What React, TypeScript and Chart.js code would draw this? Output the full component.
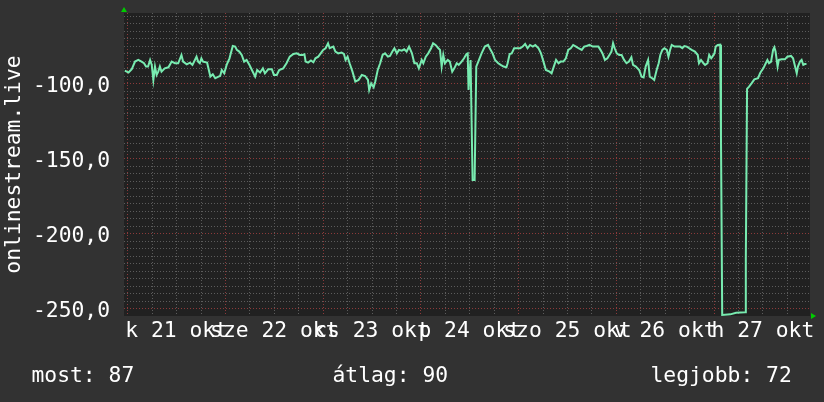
import React, { useEffect, useRef } from 'react';
import { Chart, registerables } from 'chart.js';
Chart.register(...registerables);

// time in hours since 2025-10-21 00:00
const HOURS = [
  -0.7, 0.2, 1.0, 1.8, 2.6, 3.4, 4.0, 4.5, 5.0, 5.5, 5.9, 6.3, 6.7, 7.1, 7.5, 7.9, 8.3, 9.1, 10.0, 10.8,
  11.6, 12.4, 13.2, 13.6, 14.5, 15.3, 15.9, 16.5, 16.9, 17.3, 17.7, 18.1, 18.5, 19.5, 20.3, 20.9, 21.5, 22.3, 22.7, 23.1,
  23.7, 24.3, 25.0, 25.8, 26.4, 26.8, 27.4, 28.0, 28.6, 29.2, 29.9, 30.5, 31.3, 31.8, 32.5, 33.2, 33.7, 34.5, 35.4, 35.9,
  36.6, 37.2, 38.2, 39.0, 39.8, 40.7, 41.5, 42.3, 42.9, 43.4, 43.7, 44.3, 45.0, 45.6, 46.1, 46.8, 47.4, 48.0, 48.6, 49.2,
  49.6, 50.5, 51.0, 51.7, 52.5, 53.1, 53.5, 54.0, 54.5, 55.2, 55.9, 56.7, 57.5, 58.3, 59.0, 59.3, 59.8, 60.4, 60.8, 61.4,
  62.0, 62.6, 63.2, 63.9, 64.4, 65.0, 65.5, 66.1, 66.6, 67.3, 67.9, 68.5, 69.1, 69.8, 70.4, 71.0, 71.5, 72.2, 72.6, 73.2,
  73.8, 74.5, 75.0, 75.6, 76.3, 76.7, 77.1, 77.5, 77.9, 78.6, 79.1, 79.7, 80.2, 80.8, 81.3, 82.0, 82.6, 83.2, 83.5, 83.7,
  84.2, 84.7, 85.2, 85.6, 86.1, 86.9, 87.7, 88.5, 88.9, 89.6, 90.2, 91.0, 91.6, 92.3, 93.0, 93.3, 93.8, 94.3, 94.9, 95.6,
  96.4, 97.0, 97.6, 98.2, 98.8, 99.5, 100.1, 100.9, 101.5, 102.1, 102.7, 103.6, 104.1, 104.5, 105.2, 105.8, 106.3, 107.0, 107.6, 108.2,
  108.8, 109.4, 110.1, 110.7, 111.5, 112.1, 112.7, 113.4, 114.2, 115.0, 115.6, 116.1, 116.6, 117.2, 117.8, 118.3, 118.8, 119.2, 119.6, 120.1,
  120.7, 121.3, 121.9, 122.5, 123.1, 123.7, 124.1, 124.8, 125.6, 126.2, 126.7, 127.2, 127.8, 128.2, 128.8, 129.3, 129.9, 130.4, 130.8, 131.3,
  131.8, 132.4, 132.8, 133.2, 133.6, 134.3, 134.8, 135.7, 136.2, 136.7, 137.3, 137.9, 138.5, 139.3, 140.0, 140.3, 140.8, 141.4, 141.8, 142.4,
  142.8, 143.3, 143.6, 144.1, 144.4, 144.9, 145.5, 145.7, 146.0, 148.0, 149.4, 151.6, 151.8, 152.1, 152.6, 153.2, 153.9, 154.8, 155.3, 155.7,
  156.1, 156.7, 157.1, 157.5, 158.0, 158.5, 158.8, 159.1, 159.6, 159.9, 160.6, 161.4, 162.0, 162.9, 163.4, 164.3, 164.6, 165.1, 165.5, 165.9,
  166.3, 166.7,
];

const VALUES = [
  -91.1, -92.4, -90.2, -85.1, -84.0, -85.1, -86.2, -88.4, -88.4, -84.0, -87.3, -97.3, -88.4, -94.0, -91.8, -88.4, -91.8, -89.6, -88.9, -85.1,
  -86.2, -86.2, -80.7, -85.1, -86.9, -85.8, -87.3, -84.0, -81.8, -85.1, -86.2, -82.9, -85.1, -85.8, -95.1, -93.6, -96.2, -95.1, -94.7, -90.7,
  -92.9, -87.3, -82.9, -74.7, -75.1, -77.3, -78.4, -80.7, -85.1, -84.0, -87.3, -90.7, -95.1, -90.7, -92.4, -89.6, -92.9, -90.2, -90.2, -94.0,
  -94.0, -90.7, -89.6, -86.2, -81.8, -80.0, -79.6, -80.7, -80.7, -80.2, -85.1, -85.8, -84.4, -85.6, -82.9, -81.8, -79.6, -77.3, -76.2, -72.9,
  -76.2, -75.1, -78.4, -79.6, -79.1, -80.0, -84.0, -81.8, -86.2, -91.8, -98.4, -97.3, -94.0, -94.7, -97.3, -104.0, -99.6, -102.2, -98.4, -90.7,
  -86.2, -80.7, -79.6, -81.8, -81.3, -78.4, -76.2, -79.6, -77.3, -77.8, -76.9, -78.4, -75.1, -79.6, -86.2, -86.2, -89.6, -84.0, -86.2, -81.8,
  -79.6, -76.2, -72.9, -74.0, -76.2, -77.3, -88.4, -80.7, -86.2, -84.0, -85.1, -91.8, -89.6, -86.2, -87.3, -85.1, -82.9, -80.0, -79.6, -104.0,
  -84.0, -164.0, -164.0, -88.5, -85.1, -79.6, -75.1, -74.0, -76.2, -79.6, -84.0, -86.2, -87.3, -88.4, -88.9, -86.2, -80.0, -79.6, -76.2, -76.2,
  -76.2, -75.1, -73.3, -76.2, -74.0, -75.1, -74.0, -76.2, -79.6, -85.1, -90.7, -91.8, -92.9, -89.6, -84.0, -86.2, -85.1, -85.1, -82.9, -77.3,
  -76.2, -74.0, -75.1, -76.2, -77.3, -75.1, -74.7, -74.0, -75.1, -75.1, -75.1, -77.3, -79.6, -84.0, -82.9, -80.7, -78.4, -72.9, -76.2, -79.6,
  -80.7, -80.7, -84.0, -86.2, -85.1, -82.2, -87.3, -88.4, -90.7, -95.1, -95.6, -88.4, -84.0, -95.1, -96.2, -97.3, -90.7, -86.2, -80.7, -77.3,
  -76.2, -77.3, -81.8, -77.3, -74.0, -75.1, -75.1, -75.1, -76.2, -74.7, -75.1, -76.2, -77.3, -78.4, -80.7, -86.2, -84.0, -86.2, -87.3, -86.2,
  -80.7, -82.9, -81.8, -79.6, -75.1, -74.0, -73.8, -137.0, -254.0, -253.6, -252.5, -252.2, -217.0, -103.3, -101.8, -99.6, -96.9, -96.2, -92.9, -91.1,
  -89.6, -86.2, -84.0, -86.2, -85.1, -77.3, -75.6, -78.4, -88.4, -84.0, -83.6, -83.6, -81.8, -81.3, -82.9, -92.9, -88.4, -85.1, -84.0, -87.3,
  -86.7, -86.7,
];

const DAY_LABELS = ['k 21 okt', 'sze 22 okt', 'cs 23 okt', 'p 24 okt', 'szo 25 okt', 'v 26 okt', 'h 27 okt'];
const Y_LABEL_VALUES = [-250, -200, -150, -100];
const AXIS_TITLE = 'onlinestream.live';
const SUMMARY_LABELS = ['most', 'átlag', 'legjobb'];
const SUMMARY_VALUES = [87, 90, 72];

const X_MIN = -0.91;
const X_MAX = 167.56;
const Y_MIN = -254.7;
const Y_MAX = -52.7;

const FONT = 'DejaVu Sans Mono';
const FONT_SIZE = 21.33;
const BG = '#323232';
const PLOT_BG = '#212121';
const LINE = '#78ebb0';
const GRID_GRAY = '#5c5c5c';
const GRID_RED = '#8c3a3a';
const ARROW = '#00cc00';

const xGrid: number[] = [];
for (let h = 0; h <= 162; h += 6) xGrid.push(h);
const yGrid: number[] = [];
for (let v = -250; v <= -55; v += 5) yGrid.push(v);

const plotBg = {
  id: 'plotBg',
  beforeDraw(chart: any) {
    const { ctx, chartArea } = chart;
    ctx.save();
    ctx.fillStyle = PLOT_BG;
    ctx.fillRect(chartArea.left, chartArea.top, chartArea.right - chartArea.left, chartArea.bottom - chartArea.top);
    ctx.restore();
  },
  afterDraw(chart: any) {
    const { ctx, chartArea } = chart;
    const { left, bottom, right, top } = chartArea;
    ctx.save();
    ctx.fillStyle = ARROW;
    ctx.beginPath();
    ctx.moveTo(left - 3, top - 1);
    ctx.lineTo(left + 3, top - 1);
    ctx.lineTo(left, top - 6);
    ctx.closePath();
    ctx.fill();
    ctx.beginPath();
    ctx.moveTo(right + 1, bottom - 3);
    ctx.lineTo(right + 1, bottom + 3);
    ctx.lineTo(right + 6, bottom);
    ctx.closePath();
    ctx.fill();
    ctx.restore();
  },
};

export default function App() {
  const ref = useRef<HTMLCanvasElement | null>(null);

  useEffect(() => {
    document.body.style.margin = '0';
    document.body.style.background = BG;
    const canvas = ref.current;
    if (!canvas) return;
    const chart = new Chart(canvas, {
      type: 'line',
      data: {
        datasets: [
          {
            data: HOURS.map((h, i) => ({ x: h, y: VALUES[i] })),
            borderColor: LINE,
            borderWidth: 2,
            pointRadius: 0,
            tension: 0,
            fill: false,
          },
        ],
      },
      options: {
        animation: false,
        responsive: false,
        devicePixelRatio: 1,
        layout: { padding: { left: 0, top: 13, right: 14, bottom: 0 } },
        plugins: { legend: { display: false }, tooltip: { enabled: false } },
        scales: {
          x: {
            type: 'linear',
            min: X_MIN,
            max: X_MAX,
            afterBuildTicks: (s: any) => {
              s.ticks = xGrid.map((v) => ({ value: v }));
            },
            afterFit: (s: any) => {
              s.height = 86;
              s.paddingLeft = 0;
              s.paddingRight = 0;
            },
            grid: {
              color: (c: any) => (c.tick && c.tick.value % 24 === 0 ? GRID_RED : GRID_GRAY),
              lineWidth: 1,
              drawTicks: false,
            },
            border: { display: false, dash: [1, 2] },
            ticks: {
              autoSkip: false,
              maxRotation: 0,
              minRotation: 0,
              padding: 3,
              color: '#ffffff',
              font: { family: FONT, size: FONT_SIZE },
              callback: (value: any) => {
                const v = Number(value);
                if (v % 24 === 12) return DAY_LABELS[(v - 12) / 24];
                return '';
              },
            },
          },
          y: {
            type: 'linear',
            min: Y_MIN,
            max: Y_MAX,
            afterBuildTicks: (s: any) => {
              s.ticks = yGrid.map((v) => ({ value: v }));
            },
            afterFit: (s: any) => {
              s.width = 124;
              s.paddingTop = 0;
              s.paddingBottom = 0;
            },
            grid: {
              color: (c: any) => (c.tick && c.tick.value % 50 === 0 ? GRID_RED : GRID_GRAY),
              lineWidth: 1,
              drawTicks: false,
            },
            border: { display: false, dash: [1, 2] },
            title: {
              display: true,
              text: AXIS_TITLE,
              color: '#ffffff',
              font: { family: FONT, size: FONT_SIZE },
              padding: { top: 2, bottom: 0 },
            },
            ticks: {
              autoSkip: false,
              padding: 14,
              labelOffset: 2.5,
              color: '#ffffff',
              font: { family: FONT, size: FONT_SIZE },
              callback: (value: any) => {
                const v = Number(value);
                if (Y_LABEL_VALUES.includes(v)) return v.toFixed(1).replace('.', ',');
                return '';
              },
            },
          },
        },
      },
      plugins: [plotBg],
    });
    return () => chart.destroy();
  }, []);

  const lefts = [31.5, 332.5, 650.5];
  return (
    <div style={{ position: 'relative', width: 824, height: 402, background: BG, overflow: 'hidden' }}>
      <canvas ref={ref} width={824} height={402} style={{ display: 'block', width: 824, height: 402 }} />
      {SUMMARY_LABELS.map((l, i) => (
        <div
          key={l}
          style={{
            position: 'absolute',
            left: lefts[i],
            top: 363,
            fontFamily: FONT,
            fontSize: FONT_SIZE,
            lineHeight: '24px',
            color: '#ffffff',
            whiteSpace: 'pre',
          }}
        >
          {`${l}: ${SUMMARY_VALUES[i]}`}
        </div>
      ))}
    </div>
  );
}
